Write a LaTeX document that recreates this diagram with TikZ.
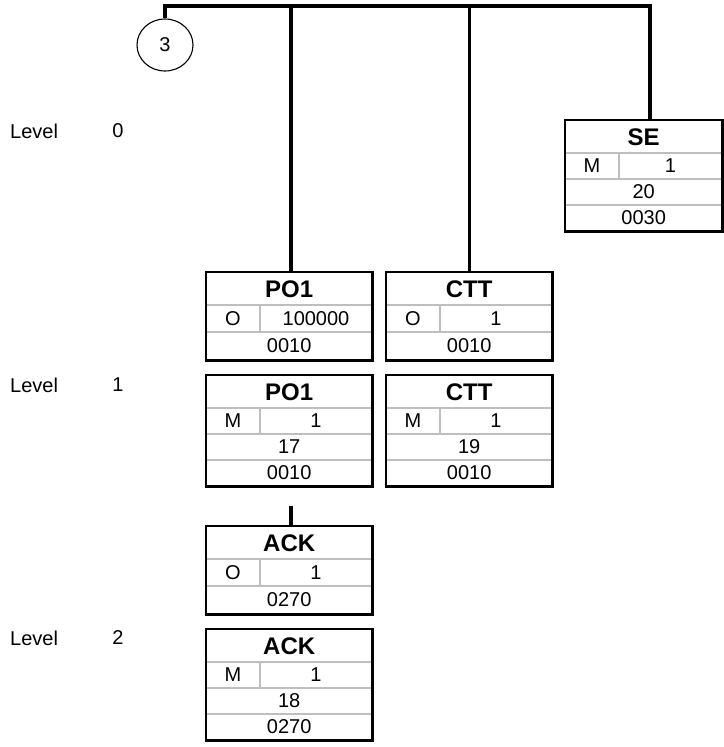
\documentclass[tikz,border=0pt]{standalone}
\usepackage{fontspec}
\setmainfont{Liberation Sans}
\usetikzlibrary{calc,shapes.geometric}
\definecolor{rowgrey}{RGB}{190,190,190}
\tikzset{
  frame/.style={draw=black, line width=2.6pt},
  rowline/.style={draw=rowgrey, line width=1.6pt},
  conn/.style={draw=black, line width=3.2pt},
  titletext/.style={font=\fontsize{24}{27}\selectfont\bfseries, inner sep=0pt},
  celltext/.style={font=\fontsize{20}{23}\selectfont, inner sep=0pt},
  leveltext/.style={font=\fontsize{20}{23}\selectfont, inner sep=0pt},
}
% 3-row segment box: name, x, y, width, title, status, rep, code
\newcommand\segthree[8]{%
  \path node[minimum width=#4, minimum height=88, inner sep=0pt, anchor=north west] (#1) at (#2,#3) {};
  \draw[rowline] ([yshift=-33pt]#1.north west) -- ([yshift=-33pt]#1.north east);
  \draw[rowline] ([yshift=-60pt]#1.north west) -- ([yshift=-60pt]#1.north east);
  \draw[rowline] ([xshift=54pt,yshift=-33pt]#1.north west) -- ([xshift=54pt,yshift=-60pt]#1.north west);
  \node[titletext] (#1-t) at ([yshift=-17pt]#1.north) {#5};
  \node[celltext] (#1-s) at ([xshift=27pt,yshift=-46.5pt]#1.north west) {#6};
  \node[celltext] (#1-r) at ([xshift={(#4+54)/2},yshift=-46.5pt]#1.north west) {#7};
  \node[celltext] (#1-c) at ([yshift=-74pt]#1.north) {#8};
  \draw[frame] (#1.north west) rectangle (#1.south east);
}
% 4-row segment box: name, x, y, width, title, status, rep, number, code
\newcommand\segfour[9]{%
  \path node[minimum width=#4, minimum height=111, inner sep=0pt, anchor=north west] (#1) at (#2,#3) {};
  \draw[rowline] ([yshift=-33pt]#1.north west) -- ([yshift=-33pt]#1.north east);
  \draw[rowline] ([yshift=-59pt]#1.north west) -- ([yshift=-59pt]#1.north east);
  \draw[rowline] ([yshift=-85pt]#1.north west) -- ([yshift=-85pt]#1.north east);
  \draw[rowline] ([xshift=54pt,yshift=-33pt]#1.north west) -- ([xshift=54pt,yshift=-59pt]#1.north west);
  \node[titletext] (#1-t) at ([yshift=-17pt]#1.north) {#5};
  \node[celltext] (#1-s) at ([xshift=27pt,yshift=-46pt]#1.north west) {#6};
  \node[celltext] (#1-r) at ([xshift={(#4+54)/2},yshift=-46pt]#1.north west) {#7};
  \node[celltext] (#1-n) at ([yshift=-72pt]#1.north) {#8};
  \node[celltext] (#1-c) at ([yshift=-98pt]#1.north) {#9};
  \draw[frame] (#1.north west) rectangle (#1.south east);
}
\begin{document}
\begin{tikzpicture}[x=1pt,y=-1pt]
\useasboundingbox[fill=white] (0,0) rectangle (723,747);

% circle
\node[ellipse, draw=black, line width=1.1pt, minimum width=56, minimum height=52, inner sep=0pt,
      font=\fontsize{20}{23}\selectfont] (circ) at (165,45) {3};

% level labels
\node[leveltext, anchor=west] (lv0) at (10,131) {Level};
\node[leveltext] (lv0n) at (118,131) {0};
\node[leveltext, anchor=west] (lv1) at (10,385) {Level};
\node[leveltext] (lv1n) at (118,385) {1};
\node[leveltext, anchor=west] (lv2) at (10,638) {Level};
\node[leveltext] (lv2n) at (118,638) {2};

% boxes
\segfour{se}{565}{120}{157}{SE}{M}{1}{20}{0030}
\segthree{poO}{206}{272}{166}{PO1}{O}{100000}{0010}
\segthree{ctO}{386}{272}{166}{CTT}{O}{1}{0010}
\segfour{poM}{206}{375}{166}{PO1}{M}{1}{17}{0010}
\segfour{ctM}{386}{375}{166}{CTT}{M}{1}{19}{0010}
\segthree{ackO}{206}{526}{166}{ACK}{O}{1}{0270}
\segfour{ackM}{206}{629}{166}{ACK}{M}{1}{18}{0270}

% connectors
\coordinate (tl) at (165,6);
\coordinate (tr) at (650,6);
\coordinate (stub) at (291,506);
\draw[conn] (circ.north) -- (tl) -- (tr) -- (tr |- se.north);
\draw[conn] (tl -| 291,0) -- (291,0 |- poO.north);
\draw[conn] (tl -| ctO.north) -- (ctO.north);
\draw[conn] (stub) -- (stub |- ackO.north);
\end{tikzpicture}
\end{document}
